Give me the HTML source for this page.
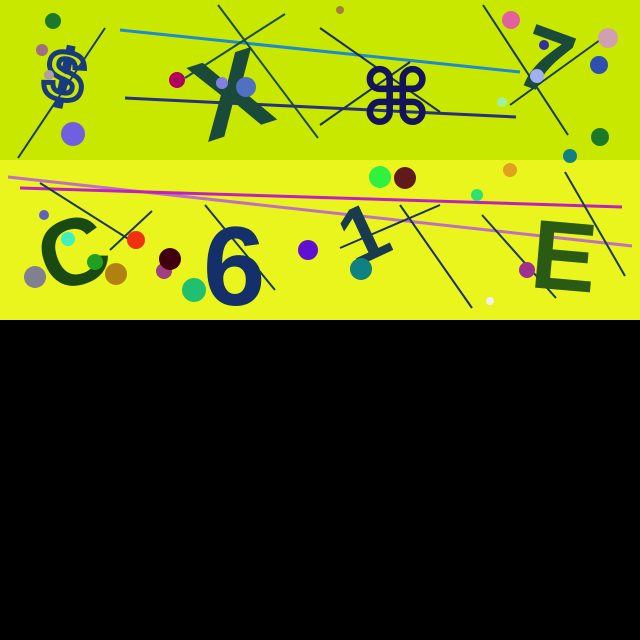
<!DOCTYPE html>
<html><head><meta charset="utf-8"><style>
html,body{margin:0;padding:0;background:#000;width:640px;height:640px;overflow:hidden}
svg{display:block}
text{font-family:"Liberation Sans","DejaVu Sans",sans-serif;font-weight:bold}
</style></head><body>
<svg width="640" height="640">
<rect x="0" y="0" width="640" height="160" fill="#c8e800"/>
<rect x="0" y="160" width="640" height="160" fill="#e9f51c"/>
<rect x="0" y="320" width="640" height="320" fill="#000"/>
<g stroke-width="2">
<line x1="18" y1="158" x2="105" y2="28" stroke="#1a3a6a"/>
<line x1="120" y1="30" x2="520" y2="72" stroke="#1e8ad0" stroke-width="3"/>
<line x1="125" y1="98" x2="516" y2="117" stroke="#283080" stroke-width="3"/>
<line x1="218" y1="5" x2="318" y2="138" stroke="#1a4a4a"/>
<line x1="185" y1="78" x2="285" y2="14" stroke="#1a4a4a"/>
<line x1="320" y1="28" x2="440" y2="112" stroke="#1a3050"/>
<line x1="320" y1="125" x2="410" y2="62" stroke="#1a3050"/>
<line x1="483" y1="5" x2="568" y2="135" stroke="#1a3a50"/>
<line x1="510" y1="105" x2="600" y2="40" stroke="#1a3a50"/>
<line x1="8" y1="177" x2="632" y2="246" stroke="#c070c0" stroke-width="3"/>
<line x1="20" y1="188" x2="622" y2="207" stroke="#c020c0" stroke-width="3"/>
<line x1="40" y1="183" x2="130" y2="240" stroke="#1a3a50"/>
<line x1="110" y1="250" x2="152" y2="211" stroke="#1a3a50"/>
<line x1="205" y1="205" x2="275" y2="290" stroke="#1a3a50"/>
<line x1="400" y1="205" x2="472" y2="308" stroke="#1a3060"/>
<line x1="340" y1="248" x2="440" y2="205" stroke="#1a3060"/>
<line x1="482" y1="215" x2="556" y2="298" stroke="#1a3a50"/>
<line x1="565" y1="172" x2="625" y2="276" stroke="#1a3a50"/>
</g>
<g>
<text x="45" y="103" font-size="72" fill="none" stroke="#1a3a80" stroke-width="5" transform="rotate(12 75 75)">$</text>
<text x="190" y="126" font-size="112" fill="#1a4a3a" transform="rotate(-18 250 80)">X</text>
<text x="360" y="125" font-size="78" fill="#14145a">⌘</text>
<text x="522" y="98" font-size="90" fill="#1a4a3a" transform="rotate(20 565 60)">7</text>
<text x="35" y="282" font-size="95" fill="#1a4a14" transform="rotate(-20 80 240)">C</text>
<text x="203" y="305" font-size="112" fill="#14306a">6</text>
<text x="340" y="260" font-size="80" fill="#1a3a50" transform="rotate(-25 365 230)">1</text>
<text x="532" y="290" font-size="98" fill="#2a5a14" transform="rotate(5 565 250)">E</text>
</g>
<g>
<circle cx="53" cy="21" r="8" fill="#1a7a2a"/>
<circle cx="42" cy="50" r="6" fill="#a07080"/>
<circle cx="49" cy="75" r="5" fill="#b0a0a0"/>
<circle cx="73" cy="134" r="12" fill="#7060e0"/>
<circle cx="177" cy="80" r="8" fill="#b00060"/>
<circle cx="222" cy="83" r="6" fill="#8080e0"/>
<circle cx="246" cy="87" r="10" fill="#5070c0"/>
<circle cx="340" cy="10" r="4" fill="#a08040"/>
<circle cx="511" cy="20" r="9" fill="#e060a0"/>
<circle cx="544" cy="45" r="5" fill="#3030a0"/>
<circle cx="608" cy="38" r="10" fill="#d0a0b0"/>
<circle cx="599" cy="65" r="9" fill="#3050b0"/>
<circle cx="537" cy="76" r="7" fill="#a0b0f0"/>
<circle cx="502" cy="102" r="5" fill="#a0f0a0"/>
<circle cx="600" cy="137" r="9" fill="#1a7a2a"/>
<circle cx="570" cy="156" r="7" fill="#108080"/>
<circle cx="380" cy="177" r="11" fill="#30f040"/>
<circle cx="405" cy="178" r="11" fill="#601a1a"/>
<circle cx="510" cy="170" r="7" fill="#e0a020"/>
<circle cx="477" cy="195" r="6" fill="#30e070"/>
<circle cx="44" cy="215" r="5" fill="#6060c0"/>
<circle cx="68" cy="239" r="7" fill="#40f0c0"/>
<circle cx="136" cy="240" r="9" fill="#f03010"/>
<circle cx="95" cy="262" r="8" fill="#20a020"/>
<circle cx="35" cy="277" r="11" fill="#808090"/>
<circle cx="116" cy="274" r="11" fill="#b08010"/>
<circle cx="164" cy="271" r="8" fill="#a04080"/>
<circle cx="170" cy="259" r="11" fill="#400010"/>
<circle cx="194" cy="290" r="12" fill="#20c070"/>
<circle cx="308" cy="250" r="10" fill="#6010d0"/>
<circle cx="361" cy="269" r="11" fill="#108080"/>
<circle cx="527" cy="270" r="8" fill="#a03090"/>
<circle cx="490" cy="301" r="4" fill="#f0f0f0"/>
</g>
</svg>
</body></html>
